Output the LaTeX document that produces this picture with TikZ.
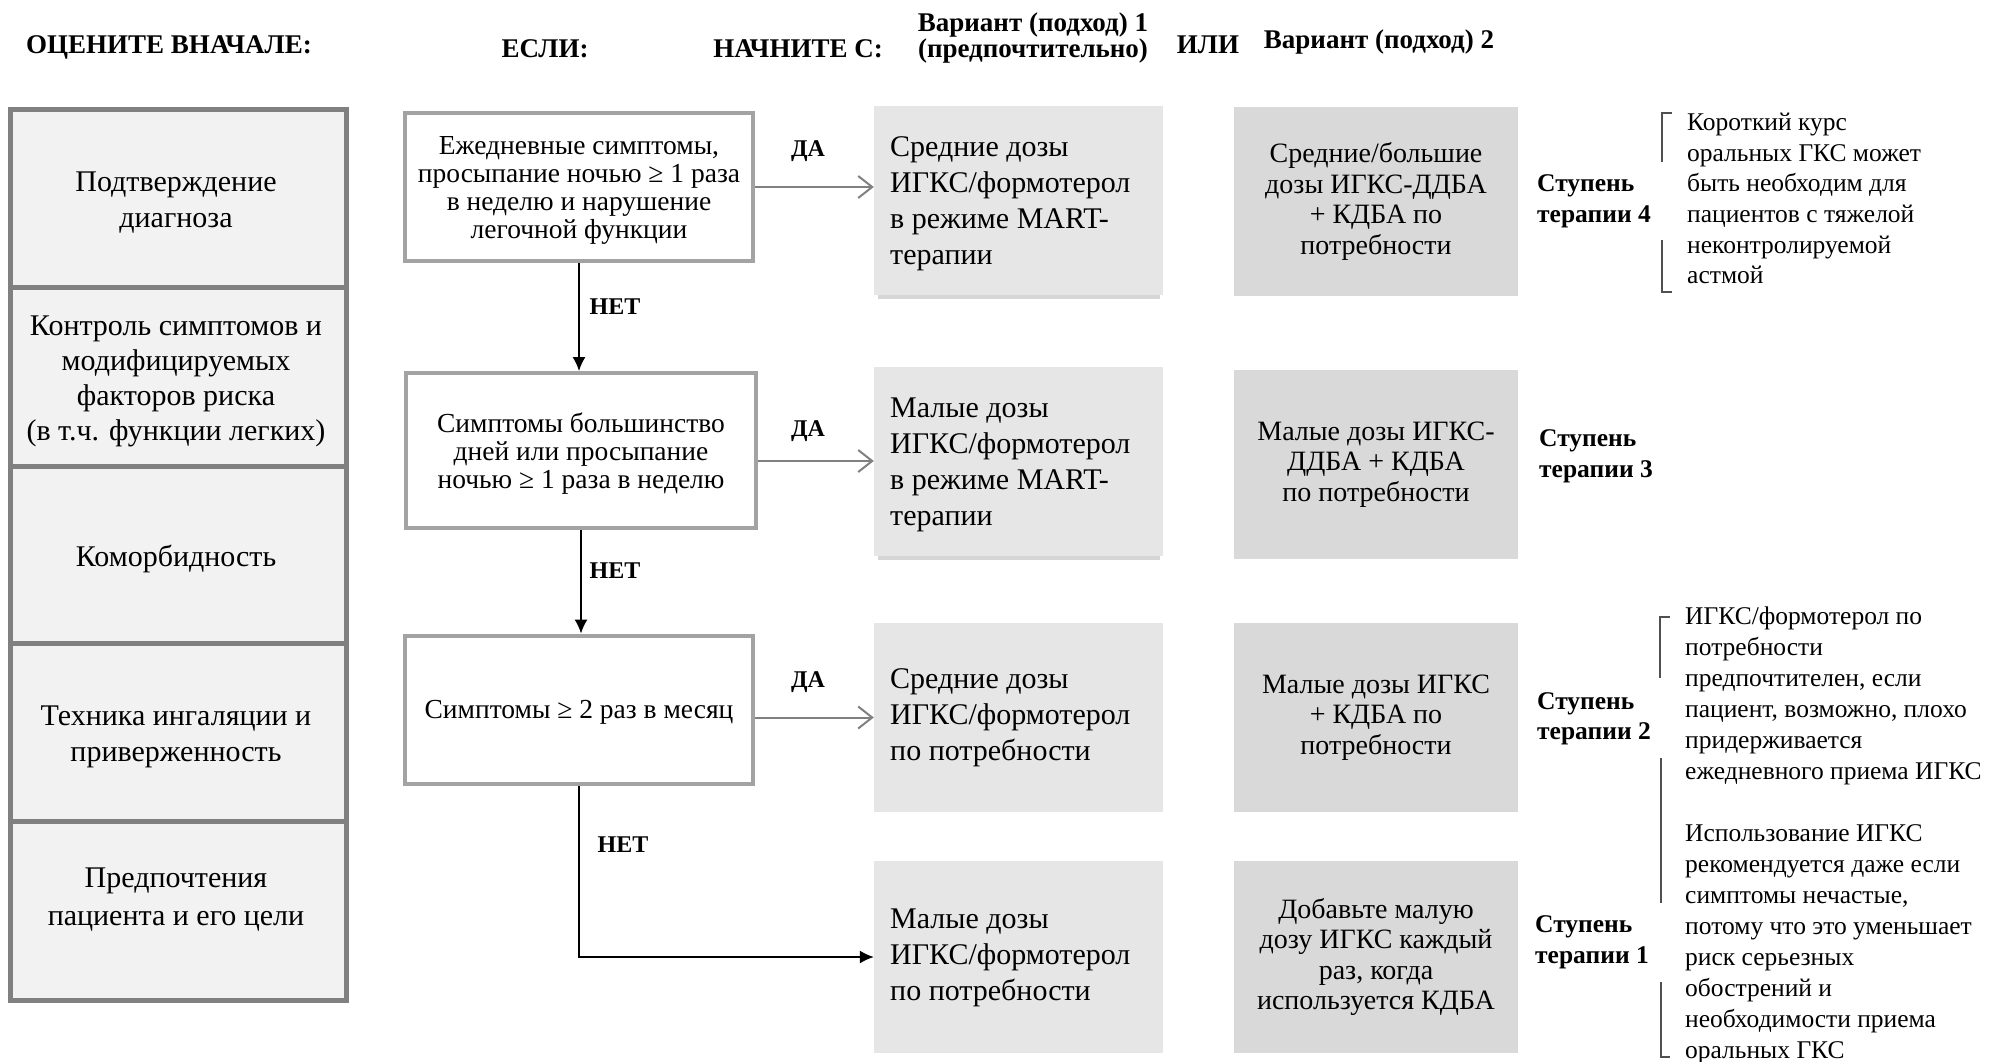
\documentclass[tikz,border=0pt]{standalone}
\usepackage{fontspec}
\setmainfont{Liberation Serif}
\usetikzlibrary{arrows.meta,calc}
\definecolor{leftfill}{HTML}{F2F2F2}
\definecolor{leftdraw}{HTML}{808080}
\definecolor{decdraw}{HTML}{A3A3A3}
\definecolor{optA}{HTML}{E6E6E6}
\definecolor{optB}{HTML}{D9D9D9}
\definecolor{shadowc}{HTML}{D6D6D6}
\definecolor{dagray}{HTML}{808080}
\definecolor{brk}{HTML}{505050}
\begin{document}
\begin{tikzpicture}[x=1pt,y=-1pt,
  hdr/.style={inner sep=0pt, align=center, font=\bfseries\fontsize{27}{26}\selectfont},
  leftbox/.style={draw=leftdraw, fill=leftfill, line width=5pt, minimum width=336pt, inner sep=0pt},
  lefttext/.style={inner sep=0pt, align=center, font=\fontsize{30}{36}\selectfont},
  decbox/.style={draw=decdraw, fill=white, line width=4pt, inner sep=0pt, align=center, text depth=0pt, font=\fontsize{27.5}{28}\selectfont},
  optAbox/.style={fill=optA, minimum width=289pt, inner sep=0pt},
  optAtext/.style={inner sep=0pt, anchor=west, align=left, font=\fontsize{30}{36}\selectfont},
  optBbox/.style={fill=optB, minimum width=284pt, inner sep=0pt, align=center, font=\fontsize{28}{30.5}\selectfont},
  steplbl/.style={inner sep=0pt, align=left, anchor=west, font=\bfseries\fontsize{25.5}{30.5}\selectfont},
  yeslbl/.style={inner sep=0pt, font=\bfseries\fontsize{24}{24}\selectfont},
  noarrow/.style={draw=black, line width=1.5pt, -{Latex[length=14pt,width=13pt]}},
  yesarrow/.style={draw=dagray, line width=2pt, -{Straight Barb[length=14pt,width=22pt]}},
  bracket/.style={draw=brk, line width=1.8pt},
  note/.style={inner sep=0pt, align=left, anchor=north west}
]
\useasboundingbox (0,0) rectangle (1989,1061);

% headers
\node[hdr] (h1) at (169,47) {ОЦЕНИТЕ ВНАЧАЛЕ:};
\node[hdr] (h2) at (545,49) {ЕСЛИ:};
\node[hdr] (h3) at (798,49) {НАЧНИТЕ С:};
\node[hdr] (h4) at (1033,38) {Вариант (подход) 1\\(предпочтительно)};
\node[hdr] (h5) at (1208,45) {ИЛИ};
\node[hdr] (h6) at (1379,42) {Вариант (подход) 2};

% left column
\node[leftbox, minimum height=178pt] (L1) at (178,198) {};
\node[leftbox, minimum height=179pt] (L2) at (178,376.5) {};
\node[leftbox, minimum height=177pt] (L3) at (178,554.5) {};
\node[leftbox, minimum height=178pt] (L4) at (178,732) {};
\node[leftbox, minimum height=179pt] (L5) at (178,910.5) {};
\node[lefttext] (L1t) at (176,203) {Подтверждение\\диагноза};
\node[lefttext, font=\fontsize{30}{35}\selectfont] (L2t) at (176,381) {Контроль симптомов и\\модифицируемых\\факторов риска\\(в т.ч. функции легких)};
\node[lefttext] (L3t) at (176,559) {Коморбидность};
\node[lefttext] (L4t) at (176,737) {Техника ингаляции и\\приверженность};
\node[lefttext, font=\fontsize{30}{38}\selectfont] (L5t) at (176,900) {Предпочтения\\пациента и его цели};

% decision boxes
\node[decbox, minimum width=348pt, minimum height=148pt] (D1) at (579,187) {Ежедневные симптомы,\\просыпание ночью ≥ 1 раза\\в неделю и нарушение\\легочной функции};
\node[decbox, minimum width=350pt, minimum height=155pt] (D2) at (581,450.5) {Симптомы большинство\\дней или просыпание\\ночью ≥ 1 раза в неделю};
\node[decbox, minimum width=348pt, minimum height=148pt] (D3) at (579,709.5) {Симптомы ≥ 2 раз в месяц};

% option 1 boxes (with slight shadow)
\fill[shadowc] (878,294) rectangle (1160,299);
\fill[shadowc] (878,555) rectangle (1160,560);
\node[optAbox, minimum height=189pt] (O1) at (1018.5,200) {};
\node[optAbox, minimum height=189pt] (O2) at (1018.5,461) {};
\node[optAbox, minimum height=189pt] (O3) at (1018.5,717.5) {};
\node[optAbox, minimum height=192pt] (O4) at (1018.5,957) {};
\node[optAtext] (O1t) at (890,204) {Средние дозы\\ИГКС/формотерол\\в режиме MART-\\терапии};
\node[optAtext] (O2t) at (890,464.5) {Малые дозы\\ИГКС/формотерол\\в режиме MART-\\терапии};
\node[optAtext] (O3t) at (890,718) {Средние дозы\\ИГКС/формотерол\\по потребности};
\node[optAtext] (O4t) at (890,958) {Малые дозы\\ИГКС/формотерол\\по потребности};

% option 2 boxes
\node[optBbox, minimum height=189pt] (P1) at (1376,201.5) {Средние/большие\\дозы ИГКС-ДДБА\\+ КДБА по\\потребности};
\node[optBbox, minimum height=189pt] (P2) at (1376,464.5) {Малые дозы ИГКС-\\ДДБА + КДБА\\по потребности};
\node[optBbox, minimum height=189pt] (P3) at (1376,717.5) {Малые дозы ИГКС\\+ КДБА по\\потребности};
\node[optBbox, minimum height=192pt] (P4) at (1376,957) {Добавьте малую\\дозу ИГКС каждый\\раз, когда\\используется КДБА};

% step labels
\node[steplbl] (S4) at (1537,201.5) {Ступень\\терапии 4};
\node[steplbl] (S3) at (1539,456.5) {Ступень\\терапии 3};
\node[steplbl] (S2) at (1537,719) {Ступень\\терапии 2};
\node[steplbl] (S1) at (1535,942.5) {Ступень\\терапии 1};

% arrows NO
\draw[noarrow] (D1.south) -- (D1.south |- D2.north);
\draw[noarrow] (D2.south) -- (D2.south |- D3.north);
\draw[noarrow] (D3.south) |- (O4.west);
\node[yeslbl] (n1) at (615,307) {НЕТ};
\node[yeslbl] (n2) at (615,571) {НЕТ};
\node[yeslbl] (n3) at (623,845) {НЕТ};

% arrows YES
\draw[yesarrow] (D1.east) -- (O1.west |- D1.east);
\draw[yesarrow] (D2.east |- O2.west) -- (O2.west);
\draw[yesarrow] (D3.east |- O3.west) -- (O3.west);
\node[yeslbl] (y1) at (808,151) {ДА};
\node[yeslbl] (y2) at (808,431) {ДА};
\node[yeslbl] (y3) at (808,682) {ДА};

% notes
\node[note, font=\fontsize{25.5}{30.6}\selectfont] (N4) at (1687,113) {Короткий курс\\оральных ГКС может\\быть необходим для\\пациентов с тяжелой\\неконтролируемой\\астмой};
\draw[bracket] (1672,113) -- (1662,113) -- (1662,162);
\draw[bracket] (1662,240) -- (1662,292) -- (1672,292);

\node[note, font=\fontsize{25.5}{31}\selectfont] (N2) at (1685,607) {ИГКС/формотерол по\\потребности\\предпочтителен, если\\пациент, возможно, плохо\\придерживается\\ежедневного приема ИГКС\\[31pt]Использование ИГКС\\рекомендуется даже если\\симптомы нечастые,\\потому что это уменьшает\\риск серьезных\\обострений и\\необходимости приема\\оральных ГКС};
\draw[bracket] (1670,617) -- (1660,617) -- (1660,678);
\draw[bracket] (1661,758) -- (1661,903);
\draw[bracket] (1661,982) -- (1661,1057) -- (1670,1057);
\end{tikzpicture}
\end{document}
